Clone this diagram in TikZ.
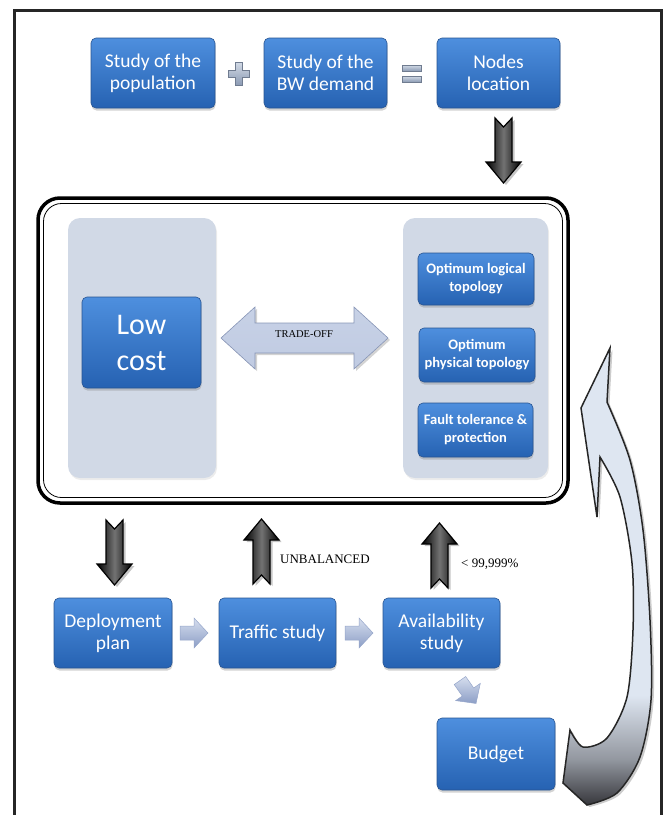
\documentclass[tikz,border=0pt]{standalone}
\usepackage{fontspec}
\setmainfont{Liberation Serif}
\newfontfamily\calibri{Carlito}
\usetikzlibrary{shadows}

\definecolor{boxtop}{RGB}{78,143,222}
\definecolor{boxbot}{RGB}{38,98,178}
\definecolor{boxline}{RGB}{40,84,145}
\definecolor{panel}{RGB}{209,217,230}
\definecolor{arclight}{RGB}{222,230,241}
\definecolor{arcdark}{RGB}{55,55,60}
\definecolor{signtop}{RGB}{210,218,230}
\definecolor{signbot}{RGB}{140,155,180}
\definecolor{lighttop}{RGB}{214,222,238}
\definecolor{lightbot}{RGB}{140,158,198}
\definecolor{lightline}{RGB}{150,166,202}

\pgfdeclareverticalshading{arcshade}{100bp}{color(0bp)=(arcdark); color(25bp)=(arcdark); color(30bp)=(arcdark!45!arclight); color(37bp)=(arclight); color(100bp)=(arclight)}

\tikzset{
  bluebox/.style={draw=boxline, line width=0.6pt, rounded corners=5pt,
    top color=boxtop, bottom color=boxbot, text=white, align=center, inner sep=2pt,
    font=\calibri\fontsize{19.5}{22}\selectfont,
    drop shadow={shadow xshift=0.5pt, shadow yshift=-2.5pt, opacity=0.35}},
  smallbox/.style={bluebox, font=\calibri\bfseries\fontsize{14.5}{18}\selectfont},
  panelbox/.style={fill=panel, rounded corners=12pt,
    drop shadow={shadow xshift=1pt, shadow yshift=-2pt, opacity=0.15}},
  blackfill/.style={draw=black, line width=1.2pt, left color=black, right color=black,
    middle color=black!55, drop shadow={shadow xshift=2.5pt, shadow yshift=-2pt, opacity=0.45}},
  lightfill/.style={draw=lightline, line width=0.5pt, top color=lighttop, bottom color=lightbot},
  signfill/.style={draw=signbot!80!black, line width=0.4pt, top color=signtop, bottom color=signbot},
  blkarrow/.pic={
    \path[blackfill] (-8.5,0) -- (0,9) -- (8.5,0) -- (8.5,44) -- (17.5,44) -- (0,65)
      -- (-17.5,44) -- (-8.5,44) -- cycle;
  },
  lgtarrow/.pic={
    \path[lightfill] (-14,-7) -- (0,-7) -- (0,-15) -- (14,0) -- (0,15) -- (0,7)
      -- (-14,7) -- cycle;
  }
}

\begin{document}
\begin{tikzpicture}[x=1pt,y=-1pt]
    \useasboundingbox (0,0) rectangle (667,815);

    % Outer frame
    \draw[line width=3pt, black!85] (14,822) -- (14,10) -- (661,10) -- (661,822);

    % Top row
    \node[bluebox, minimum width=124pt, minimum height=70pt] (pop) at (153,73) {Study of the\\population};
    \node[bluebox, minimum width=123pt, minimum height=70pt] (bw) at (325.5,73) {Study of the\\BW demand};
    \node[bluebox, minimum width=123pt, minimum height=70pt] (loc) at (498.5,73) {Nodes\\location};

    % -- plus and equal signs
    \path[signfill] (235,62) -- (242,62) -- (242,70) -- (249,70) -- (249,77) -- (242,77)
      -- (242,85) -- (235,85) -- (235,77) -- (228,77) -- (228,70) -- (235,70) -- cycle;
    \path[signfill] (402,65) rectangle (421,71);
    \path[signfill] (402,76) rectangle (421,82);

    % Arrow to the trade-off box
    \pic at (503.5,118) {blkarrow};

    % Trade-off box
    \draw[line width=3.5pt, rounded corners=22pt] (38,198) rectangle (568,503);
    \draw[line width=0.8pt, rounded corners=18pt] (43.5,203.5) rectangle (562.5,497.5);

    % -- left side
    \node[panelbox, minimum width=148pt, minimum height=260pt] (lpanel) at (142,348) {};
    \node[bluebox, minimum width=119pt, minimum height=91pt,
      font=\calibri\fontsize{30}{36}\selectfont] (cost) at (141.5,342.5) {Low\\cost};

    % -- right side
    \node[panelbox, minimum width=145pt, minimum height=260pt] (rpanel) at (475.5,348) {};
    \node[smallbox, minimum width=116pt, minimum height=52pt] (logic) at (476,279) {Optimum logical\\topology};
    \node[smallbox, minimum width=116pt, minimum height=54pt] (phys) at (477,355) {Optimum\\physical topology};
    \node[smallbox, minimum width=115pt, minimum height=54pt] (fault) at (475.5,430) {Fault tolerance \&\\protection};

    % -- trade-off arrow
    \path[draw=lightline!90!black, line width=0.6pt, top color=lighttop!80!lightbot, middle color=white!70!lighttop,
      bottom color=lighttop!70!lightbot, drop shadow={shadow xshift=2pt, shadow yshift=-2pt, opacity=0.35}]
      (221,338) -- (255,307) -- (255,323) -- (354,323) -- (354,307) -- (388,338)
      -- (354,369) -- (354,353) -- (255,353) -- (255,369) -- cycle;
    \node[font=\fontsize{10.5}{12}\selectfont] (trade) at (304,334) {TRADE-OFF};

    % Feedback arrows
    \pic at (114.5,520) {blkarrow};
    \pic[rotate=180] at (261.5,584) {blkarrow};
    \pic[rotate=180] at (439.5,588) {blkarrow};
    \node[anchor=west, font=\fontsize{13}{15}\selectfont, inner sep=0pt] (unbal) at (280,559) {UNBALANCED};
    \node[anchor=west, font=\fontsize{13}{15}\selectfont, inner sep=0pt] (avail99) at (461,564) {< 99,999\%};

    % Bottom row
    \node[bluebox, minimum width=118pt, minimum height=70pt] (deploy) at (113,633) {Deployment\\plan};
    \node[bluebox, minimum width=117pt, minimum height=70pt] (traffic) at (277.5,633) {Traffic study};
    \node[bluebox, minimum width=117pt, minimum height=70pt] (avail) at (441.5,633) {Availability\\study};
    \node[bluebox, minimum width=118pt, minimum height=72pt] (budget) at (496,754) {Budget};

    % -- small arrows
    \pic at (194,633) {lgtarrow};
    \pic at (359,633) {lgtarrow};
    \pic[rotate=-55] at (468,692) {lgtarrow};

    % Curved arrow back up
    \path[shading=arcshade, draw=black!85, line width=1.5pt,
      drop shadow={shadow xshift=2.5pt, shadow yshift=-2pt, opacity=0.4}]
      (563,783) -- plot[smooth] coordinates {(587,805) (617,793) (640,757) (651,700) (650,620) (643,530) (630,460) (607,402)}
      -- (610,348) -- (581,408) -- (597,517) -- (600,457)
      -- plot[smooth] coordinates {(600,457) (620,497) (632,563) (633,630) (627,697) (607,738) (583,747) (570,730)}
      -- cycle;
\end{tikzpicture}
\end{document}
